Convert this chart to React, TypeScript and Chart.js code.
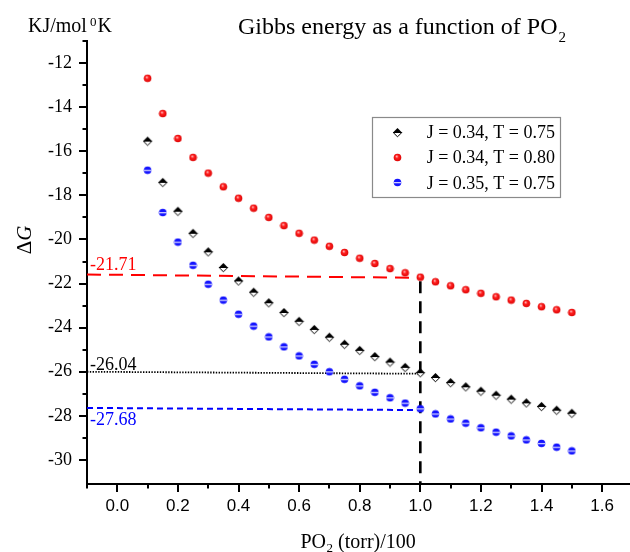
import React, { useEffect, useRef } from "react";
import { Chart, registerables } from "chart.js";

Chart.register(...registerables);

// ---------- data ----------
const xValues = [0.1, 0.15, 0.2, 0.25, 0.3, 0.35, 0.4, 0.45, 0.5, 0.55, 0.6, 0.65, 0.7, 0.75, 0.8, 0.85, 0.9, 0.95, 1.0, 1.05, 1.1, 1.15, 1.2, 1.25, 1.3, 1.35, 1.4, 1.45, 1.5];
const seriesBlack = [-15.54, -17.41, -18.72, -19.72, -20.56, -21.27, -21.88, -22.39, -22.87, -23.31, -23.71, -24.08, -24.43, -24.75, -25.03, -25.31, -25.56, -25.8, -26.04, -26.26, -26.49, -26.68, -26.88, -27.06, -27.24, -27.41, -27.57, -27.74, -27.88];
const seriesRed = [-12.69, -14.29, -15.42, -16.28, -16.99, -17.61, -18.13, -18.58, -19.0, -19.37, -19.72, -20.03, -20.31, -20.59, -20.85, -21.09, -21.32, -21.51, -21.71, -21.92, -22.1, -22.28, -22.44, -22.6, -22.75, -22.9, -23.05, -23.19, -23.31];
const seriesBlue = [-16.86, -18.78, -20.12, -21.17, -22.03, -22.75, -23.39, -23.93, -24.42, -24.87, -25.28, -25.66, -26.0, -26.34, -26.64, -26.93, -27.18, -27.42, -27.68, -27.91, -28.14, -28.33, -28.54, -28.74, -28.91, -29.09, -29.25, -29.42, -29.59];
const legendLabels = ["J = 0.34, T = 0.75", "J = 0.34, T = 0.80", "J = 0.35, T = 0.75"];

// reference guide lines (x, y pairs)
const refRedX = [-0.1, 1.0];
const refRedY = [-21.59, -21.74];
const refBlackX = [-0.1, 1.0];
const refBlackY = [-26.0, -26.09];
const refBlueX = [-0.1, 1.02];
const refBlueY = [-27.64, -27.74];
const refVertX = [1.0, 1.0];
const refVertY = [-21.9, -31.09];
const refLabels = ["-21.71", "-26.04", "-27.68"];

// axes
const xMajorTicks = [0, 0.2, 0.4, 0.6, 0.8, 1.0, 1.2, 1.4, 1.6];
const xMinorTicks = [-0.1, 0.1, 0.3, 0.5, 0.7, 0.9, 1.1, 1.3, 1.5];
const yMajorTicks = [-30, -28, -26, -24, -22, -20, -18, -16, -14, -12];
const yMinorTicks = [-29, -27, -25, -23, -21, -19, -17, -15, -13, -11];
const xMin = -0.1;
const xMax = 1.692;
const yMin = -31.09;
const yMax = -11;

const titleText = "Gibbs energy as a function of PO";
const titleSub = "2";
const xTitleMain = "PO";
const xTitleSub = "2";
const xTitleRest = " (torr)/100";
const yUnitMain = "KJ/mol";
const yUnitSup = "0";
const yUnitEnd = "K";

const SERIF = '"Liberation Serif", "Times New Roman", serif';
const SANS = '"Liberation Sans", Arial, sans-serif';

// ---------- markers ----------
function mkCanvas(w: number, h: number) {
  const c = document.createElement("canvas");
  c.width = w;
  c.height = h;
  return c;
}

function makeRedMarker() {
  const c = mkCanvas(9, 9);
  const g = c.getContext("2d")!;
  const grad = g.createRadialGradient(3.6, 3.3, 0.3, 4.5, 4.5, 4.2);
  grad.addColorStop(0, "#ffb0b0");
  grad.addColorStop(0.35, "#ff2020");
  grad.addColorStop(1, "#d80000");
  g.fillStyle = grad;
  g.beginPath();
  g.arc(4.5, 4.5, 3.8, 0, Math.PI * 2);
  g.fill();
  return c;
}

function makeBlueMarker() {
  const c = mkCanvas(9, 9);
  const g = c.getContext("2d")!;
  g.save();
  g.beginPath();
  g.arc(4.5, 4.5, 3.8, 0, Math.PI * 2);
  g.clip();
  g.fillStyle = "#1414ff";
  g.fillRect(0, 0, 9, 9);
  g.fillStyle = "#d0d0ff";
  g.fillRect(0, 4.0, 9, 1.3);
  g.restore();
  return c;
}

function makeDiamondMarker() {
  const c = mkCanvas(11, 11);
  const g = c.getContext("2d")!;
  g.fillStyle = "#ffffff";
  g.strokeStyle = "#000000";
  g.lineWidth = 1;
  g.beginPath();
  g.moveTo(1.2, 5.5);
  g.lineTo(9.8, 5.5);
  g.lineTo(5.5, 9.8);
  g.closePath();
  g.fill();
  g.stroke();
  g.fillStyle = "#000000";
  g.beginPath();
  g.moveTo(5.5, 1.0);
  g.lineTo(10.2, 5.7);
  g.lineTo(0.8, 5.7);
  g.closePath();
  g.fill();
  return c;
}

export default function App() {
  const ref = useRef<HTMLCanvasElement | null>(null);

  useEffect(() => {
    if (!ref.current) return;
    const redM = makeRedMarker();
    const blueM = makeBlueMarker();
    const blackM = makeDiamondMarker();
    const markers = [blackM, redM, blueM];

    const pts = (xs: number[], ys: number[]) => xs.map((x, i) => ({ x, y: ys[i] }));

    const decorations = {
      id: "decorations",
      afterDraw(chart: any) {
        const { ctx, chartArea, scales } = chart;
        const xs = scales.x;
        const ys = scales.y;
        ctx.save();
        // tick marks
        ctx.strokeStyle = "#000";
        ctx.lineWidth = 2;
        const bottom = Math.round(chartArea.bottom);
        const left = Math.round(chartArea.left);
        const tx = (v: number, len: number) => {
          const px = Math.round(xs.getPixelForValue(v));
          ctx.beginPath();
          ctx.moveTo(px, bottom);
          ctx.lineTo(px, bottom + len);
          ctx.stroke();
        };
        const ty = (v: number, len: number) => {
          const py = Math.round(ys.getPixelForValue(v));
          ctx.beginPath();
          ctx.moveTo(left, py);
          ctx.lineTo(left - len, py);
          ctx.stroke();
        };
        xMajorTicks.forEach((v) => tx(v, 8));
        xMinorTicks.forEach((v) => tx(v, 4.5));
        yMajorTicks.forEach((v) => ty(v, 8));
        yMinorTicks.forEach((v) => ty(v, 4.5));

        ctx.fillStyle = "#000";
        ctx.textBaseline = "alphabetic";
        ctx.textAlign = "left";

        // title
        ctx.font = `24px ${SERIF}`;
        ctx.fillText(titleText, 238, 33.5);
        const tw = ctx.measureText(titleText).width;
        ctx.font = `15px ${SERIF}`;
        ctx.fillText(titleSub, 238 + tw + 1, 41.5);

        // y unit label
        ctx.font = `20px ${SERIF}`;
        ctx.fillText(yUnitMain, 28, 31.7);
        let ux = 28 + ctx.measureText(yUnitMain).width + 3;
        ctx.font = `13px ${SERIF}`;
        ctx.fillText(yUnitSup, ux, 25.5);
        ux += ctx.measureText(yUnitSup).width + 1;
        ctx.font = `20px ${SERIF}`;
        ctx.fillText(yUnitEnd, ux, 31.7);

        // Delta G (rotated)
        ctx.save();
        ctx.translate(31, 240);
        ctx.rotate(-Math.PI / 2);
        ctx.font = `21px ${SERIF}`;
        const dw = ctx.measureText("\u0394").width;
        ctx.font = `italic 21px ${SERIF}`;
        const gw = ctx.measureText("G").width;
        const start = -(dw + gw) / 2;
        ctx.font = `21px ${SERIF}`;
        ctx.fillText("\u0394", start, 0);
        ctx.font = `italic 21px ${SERIF}`;
        ctx.fillText("G", start + dw, 0);
        ctx.restore();

        // x title
        ctx.font = `20px ${SERIF}`;
        let xx = 300.5;
        ctx.fillText(xTitleMain, xx, 548);
        xx += ctx.measureText(xTitleMain).width + 0.5;
        ctx.font = `13px ${SERIF}`;
        ctx.fillText(xTitleSub, xx, 552);
        xx += ctx.measureText(xTitleSub).width;
        ctx.font = `20px ${SERIF}`;
        ctx.fillText(xTitleRest, xx, 548);

        // reference value labels
        const refColors = ["#ff0000", "#000000", "#0000ff"];
        const refBase = [270, 370, 425];
        ctx.font = `18px ${SERIF}`;
        refLabels.forEach((t, i) => {
          ctx.fillStyle = refColors[i];
          ctx.fillText(t, 90, refBase[i]);
        });

        // legend
        ctx.fillStyle = "#fff";
        ctx.fillRect(372.5, 117.5, 188, 80);
        ctx.strokeStyle = "#8a8a8a";
        ctx.lineWidth = 1.2;
        ctx.strokeRect(372.5, 117.5, 188, 80);
        const rows = [132, 157.3, 182.7];
        ctx.font = `18px ${SERIF}`;
        ctx.fillStyle = "#000";
        legendLabels.forEach((t, i) => {
          const m = markers[i];
          ctx.drawImage(m, Math.round(397.5 - m.width / 2), Math.round(rows[i] - m.height / 2));
          ctx.fillText(t, 426.7, rows[i] + 6);
        });
        ctx.restore();
      },
    };

    const lineDs = (xs: number[], ys: number[], color: string, dash: number[], width: number) => ({
      data: pts(xs, ys),
      showLine: true,
      borderColor: color,
      borderWidth: width,
      borderDash: dash,
      pointRadius: 0,
      fill: false,
      order: 2,
    });

    const chart = new Chart(ref.current, {
      type: "scatter",
      data: {
        datasets: [
          lineDs(refRedX, refRedY, "#ff0000", [14, 8], 2),
          lineDs(refBlackX, refBlackY, "#000000", [1.4, 1.4], 1.8),
          lineDs(refBlueX, refBlueY, "#0000ff", [6, 4], 2),
          lineDs(refVertX, refVertY, "#000000", [12, 8], 2.6),
          {
            label: legendLabels[0],
            data: pts(xValues, seriesBlack),
            pointStyle: blackM as any,
            pointRadius: 5,
            showLine: false,
            order: 0,
          },
          {
            label: legendLabels[1],
            data: pts(xValues, seriesRed),
            pointStyle: redM as any,
            pointRadius: 4,
            showLine: false,
            order: 0,
          },
          {
            label: legendLabels[2],
            data: pts(xValues, seriesBlue),
            pointStyle: blueM as any,
            pointRadius: 4,
            showLine: false,
            order: 0,
          },
        ] as any,
      },
      options: {
        animation: false,
        responsive: false,
        devicePixelRatio: 1,
        events: [],
        layout: { autoPadding: false, padding: { top: 41, right: 0, bottom: 0, left: 0 } },
        plugins: { legend: { display: false }, tooltip: { enabled: false }, title: { display: false } },
        scales: {
          x: {
            type: "linear",
            min: xMin,
            max: xMax,
            grid: { display: false, drawTicks: false },
            border: { display: true, color: "#000", width: 2 },
            afterFit: (s: any) => {
              s.height = 68;
              s.paddingLeft = 0;
              s.paddingRight = 0;
            },
            afterBuildTicks: (s: any) => {
              s.ticks = xMajorTicks.map((v) => ({ value: v }));
            },
            ticks: {
              autoSkip: false,
              maxRotation: 0,
              minRotation: 0,
              padding: 12,
              color: "#000",
              font: { family: SANS, size: 17 },
              callback: (v: any) => Number(v).toFixed(1),
            },
          },
          y: {
            type: "linear",
            min: yMin,
            max: yMax,
            grid: { display: false, drawTicks: false },
            border: { display: true, color: "#000", width: 2 },
            afterFit: (s: any) => {
              s.width = 87;
              s.paddingTop = 0;
              s.paddingBottom = 0;
            },
            afterBuildTicks: (s: any) => {
              s.ticks = yMajorTicks.map((v) => ({ value: v }));
            },
            ticks: {
              autoSkip: false,
              padding: 15,
              color: "#000",
              font: { family: SERIF, size: 18 },
              callback: (v: any) => String(v),
            },
          },
        },
      } as any,
      plugins: [decorations],
    });
    return () => chart.destroy();
  }, []);

  return (
    <div style={{ position: "absolute", left: 0, top: 0, width: 630, height: 552, background: "#fff" }}>
      <canvas ref={ref} width={630} height={552} style={{ display: "block" }} />
    </div>
  );
}
